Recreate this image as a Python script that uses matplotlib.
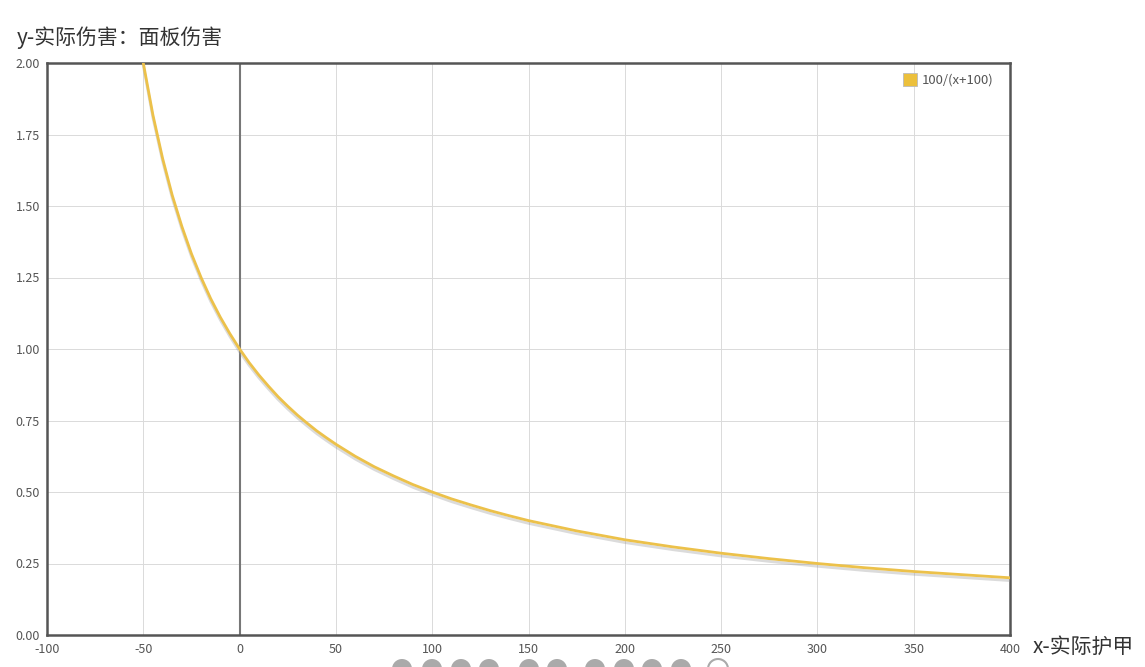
import matplotlib
matplotlib.use('Agg')
import matplotlib.pyplot as plt
import matplotlib.patheffects as pe
from matplotlib.patches import Ellipse, Rectangle

plt.rcParams['font.family'] = ['Noto Sans CJK SC', 'DejaVu Sans']

armor = [-50, -45, -40, -35, -30, -25, -20, -15, -10, -5, 0, 5, 10, 15, 20, 25, 30, 35,
         40, 45, 50, 60, 70, 80, 90, 100, 110, 120, 130, 140, 150, 175, 200, 225, 250,
         275, 300, 325, 350, 375, 400]
ratio = [2.000, 1.818, 1.667, 1.538, 1.429, 1.333, 1.250, 1.176, 1.111, 1.053, 1.000,
         0.952, 0.909, 0.870, 0.833, 0.800, 0.769, 0.741, 0.714, 0.690, 0.667, 0.625,
         0.588, 0.556, 0.526, 0.500, 0.476, 0.455, 0.435, 0.417, 0.400, 0.364, 0.333,
         0.308, 0.286, 0.267, 0.250, 0.235, 0.222, 0.211, 0.200]
x_ticks = list(range(-100, 401, 50))
y_ticks = [0, 0.25, 0.5, 0.75, 1.0, 1.25, 1.5, 1.75, 2.0]

W, H = 1145, 667
fig = plt.figure(figsize=(W / 100, H / 100), dpi=100)
ax = fig.add_axes([47 / W, 1 - 635 / H, (1010 - 47) / W, (635 - 63) / H])

ax.set_xlim(-100, 400)
ax.set_ylim(0, 2)
ax.set_xticks(x_ticks)
ax.set_yticks(y_ticks)
ax.set_xticklabels([str(v) for v in x_ticks])
ax.set_yticklabels(['%.2f' % v for v in y_ticks])
ax.tick_params(length=0, labelsize=9, colors='#555555')
ax.tick_params(axis='x', pad=6)
ax.tick_params(axis='y', pad=5)
ax.grid(True, color='#dadada', linewidth=0.7)
ax.set_axisbelow(True)
for s in ax.spines.values():
    s.set_color('#555555')
    s.set_linewidth(1.8)

ax.axvline(0, color='#777777', linewidth=1.5, zorder=2)

line, = ax.plot(armor, ratio, color='#ecc14a', linewidth=2.0, zorder=3,
                path_effects=[pe.SimpleLineShadow(offset=(0, -2), shadow_color='#999999', alpha=0.35),
                              pe.Normal()])

# legend
fig.patches.append(Rectangle((903 / W, 1 - 86 / H), 14 / W, 13 / H, transform=fig.transFigure,
                             facecolor='#ecc03c', edgecolor='#bbbbbb', linewidth=0.6))
fig.text(922 / W, 1 - 80 / H, '100/(x+100)', fontsize=9.5, color='#555555', va='center')

fig.text(17 / W, 1 - 38 / H, 'y-实际伤害：面板伤害', fontsize=15, color='#333333', va='center')
fig.text(1033 / W, 1 - 647 / H, 'x-实际护甲', fontsize=15, color='#333333', va='center')

# pager dots cut off at the bottom
for cx in [402, 432, 461, 489, 529, 557, 595, 624, 652, 681]:
    fig.patches.append(Ellipse((cx / W, 1 - 669 / H), 20 / W, 20 / H, transform=fig.transFigure,
                               facecolor='#aaaaaa', edgecolor='none'))
fig.patches.append(Ellipse((718 / W, 1 - 669 / H), 20 / W, 20 / H, transform=fig.transFigure,
                           facecolor='white', edgecolor='#aaaaaa', linewidth=1.5))

fig.savefig('out.png', dpi=100)
